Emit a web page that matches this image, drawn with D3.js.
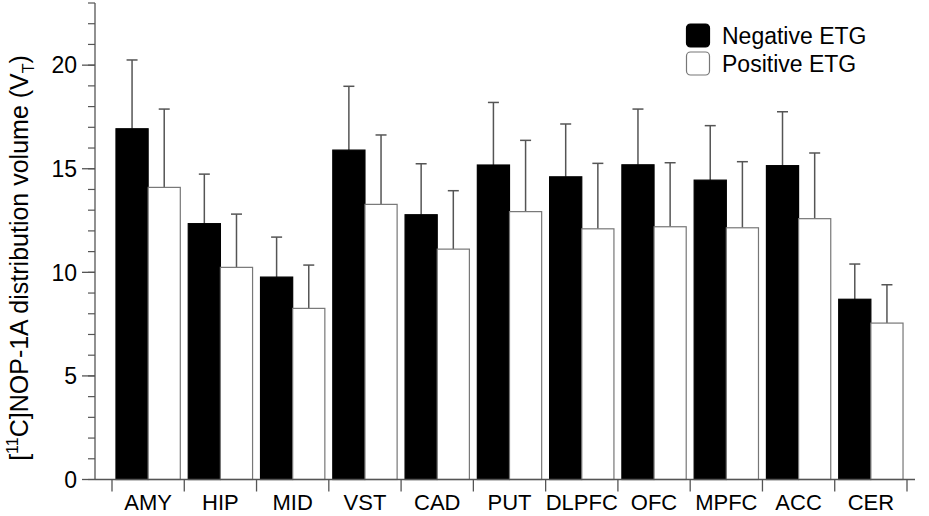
<!DOCTYPE html>
<html><head><meta charset="utf-8">
<script src="https://cdn.jsdelivr.net/npm/d3@7"></script>
<style>body{margin:0;background:#fff}svg{display:block}text{font-family:"Liberation Sans",Arial,sans-serif}</style>
</head><body><svg id="c" width="929" height="516"></svg>
<script>
const categories = ["AMY","HIP","MID","VST","CAD","PUT","DLPFC","OFC","MPFC","ACC","CER"];
const seriesNames = ["Negative ETG","Positive ETG"];
const negMean = [16.93,12.35,9.77,15.90,12.78,15.18,14.61,15.19,14.45,15.15,8.70];
const negErr  = [20.25,14.74,11.70,18.98,15.24,18.20,17.16,17.88,17.08,17.75,10.40];
const posMean = [14.10,10.24,8.26,13.28,11.12,12.93,12.10,12.20,12.15,12.59,7.55];
const posErr  = [17.88,12.81,10.35,16.63,13.94,16.37,15.26,15.29,15.34,15.76,9.40];
const yMajorTicks = [0,5,10,15,20];
const yMinorTicks = d3.range(0,24,1);

const svg = d3.select("#c");
const x0 = 112, x1 = 907, yTop = 3, yBot = 479.5;
const y = d3.scaleLinear().domain([0,23]).range([yBot,yTop]);
const xb = d3.scaleBand().domain(categories).range([x0,x1]).paddingInner(0.11).paddingOuter(0.055);
const xs = d3.scaleBand().domain(seriesNames).range([0,xb.bandwidth()]);

const axisColor = "#555";
// y axis
svg.append("line").attr("x1",95).attr("x2",95).attr("y1",y(23)).attr("y2",yBot).attr("stroke",axisColor).attr("stroke-width",1.3);
svg.selectAll(".ymin").data(yMinorTicks).enter().append("line")
  .attr("x1",88).attr("x2",95).attr("y1",d=>y(d)).attr("y2",d=>y(d)).attr("stroke",axisColor).attr("stroke-width",1.2);
svg.selectAll(".ymaj").data(yMajorTicks).enter().append("line")
  .attr("x1",82).attr("x2",95).attr("y1",d=>y(d)).attr("y2",d=>y(d)).attr("stroke",axisColor).attr("stroke-width",1.3);
svg.selectAll(".ylab").data(yMajorTicks).enter().append("text")
  .attr("x",77).attr("y",d=>y(d)).attr("dy","0.36em").attr("text-anchor","end")
  .attr("font-size",23).attr("fill","#000").text(d=>d);

// bars
const g = svg.append("g");
categories.forEach((c,i)=>{
  const bx = xb(c);
  const vals = [[negMean[i],negErr[i],"#000","#000"],[posMean[i],posErr[i],"#fff","#777"]];
  vals.forEach((v,j)=>{
    const sx = bx + xs(seriesNames[j]);
    const w = xs.bandwidth();
    const cx = sx + w/2;
    g.append("line").attr("x1",cx).attr("x2",cx).attr("y1",y(v[1])).attr("y2",y(v[0])).attr("stroke","#555").attr("stroke-width",1.5);
    g.append("line").attr("x1",cx-5.5).attr("x2",cx+5.5).attr("y1",y(v[1])).attr("y2",y(v[1])).attr("stroke","#555").attr("stroke-width",1.5);
    g.append("rect").attr("x",sx).attr("y",y(v[0])).attr("width",w).attr("height",yBot-y(v[0]))
      .attr("fill",v[2]).attr("stroke",v[3]).attr("stroke-width",1.2);
  });
});

// x axis
svg.append("line").attr("x1",95).attr("x2",915).attr("y1",yBot).attr("y2",yBot).attr("stroke",axisColor).attr("stroke-width",1.3);
const tickX = categories.map(c=>xb(c)-xb.step()*xb.paddingInner()/2);
tickX.push(xb(categories[categories.length-1])+xb.bandwidth()+xb.step()*xb.paddingInner()/2);
svg.selectAll(".xt").data(tickX).enter().append("line")
  .attr("x1",d=>d).attr("x2",d=>d).attr("y1",yBot).attr("y2",yBot+12).attr("stroke",axisColor).attr("stroke-width",1.3);
svg.selectAll(".xl").data(categories).enter().append("text")
  .attr("x",d=>xb(d)+xb.bandwidth()/2).attr("y",510).attr("text-anchor","middle")
  .attr("font-size",22).attr("fill","#000").text(d=>d);

// y label
const yl = svg.append("text").attr("transform","translate(28,258) rotate(-90)").attr("text-anchor","middle").attr("font-size",25).attr("fill","#000");
yl.append("tspan").text("[");
yl.append("tspan").attr("font-size",16).attr("dy",-10).text("11");
yl.append("tspan").attr("dy",10).text("C]NOP-1A distribution volume (V");
yl.append("tspan").attr("font-size",16).attr("dy",6).text("T");
yl.append("tspan").attr("dy",-6).text(")");

// legend
const leg = svg.append("g");
seriesNames.forEach((s,i)=>{
  leg.append("rect").attr("x",686.5).attr("y",24+i*28).attr("width",23).attr("height",23).attr("rx",4)
    .attr("fill",i===0?"#000":"#fff").attr("stroke",i===0?"#000":"#777").attr("stroke-width",1.2);
  leg.append("text").attr("x",722).attr("y",44+i*28).attr("font-size",23).attr("fill","#000").text(s);
});
</script></body></html>
